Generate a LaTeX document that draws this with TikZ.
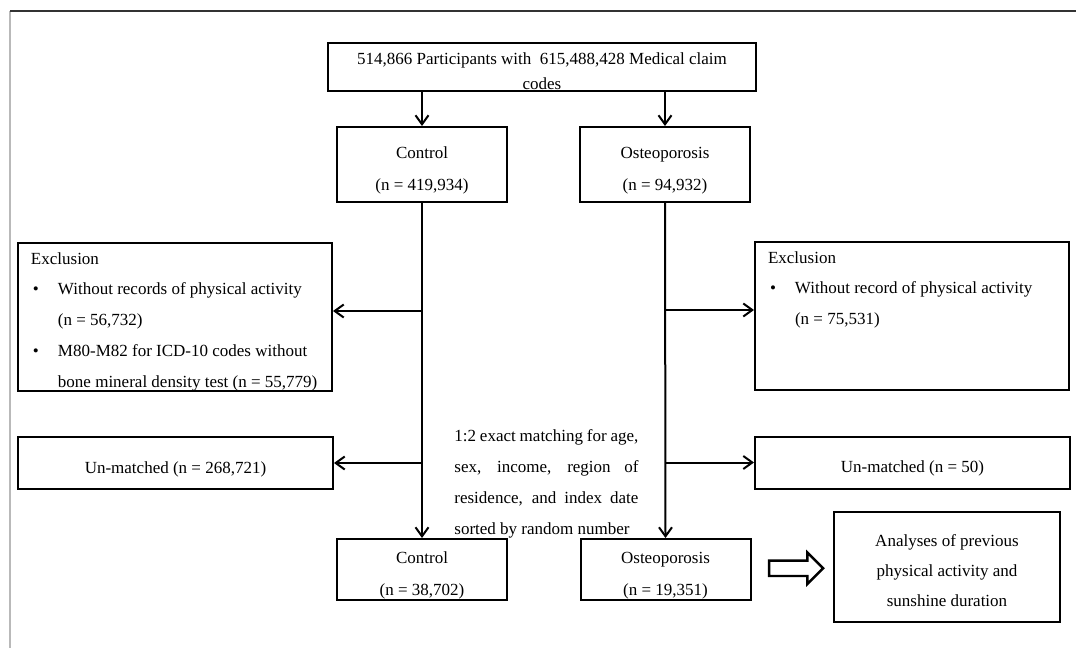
\documentclass[tikz,border=0pt]{standalone}
\usepackage{fontspec}
\setmainfont{Liberation Serif}
\usepackage{tikz}
\usetikzlibrary{calc,positioning,shapes.arrows,arrows.meta}
\newcommand{\exclhead}{\hspace*{3pt}}
\newcommand{\exclitem}{\hspace*{4pt}\makebox[12.5pt][l]{\textbullet}}
\newcommand{\exclindent}{\hspace*{16.5pt}}
\tikzset{
  basebox/.style={
    draw,
    rectangle,
    line width=1pt,
    inner sep=0pt,
    align=center,
    font=\fontsize{8.5}{16}\selectfont,
  },
  topbox/.style={basebox, minimum width=214pt, minimum height=24pt,
    text height=22.5pt, font=\fontsize{8.5}{12.5}\selectfont},
  groupbox/.style={basebox, minimum width=85pt, minimum height=37.5pt, text height=28pt},
  matchedbox/.style={basebox, minimum width=85pt, minimum height=30.5pt, text height=28pt},
  unbox/.style={basebox, minimum width=157.5pt, minimum height=26pt, text height=12pt},
  resultbox/.style={basebox, minimum width=113pt, minimum height=55pt,
    text height=40pt, font=\fontsize{8.5}{15}\selectfont},
  exclbox/.style={
    draw,
    rectangle,
    line width=1pt,
    text width=150pt,
    align=flush left,
    inner xsep=3.5pt,
    inner ysep=4.5pt,
    text height=6pt,
    text depth=59pt,
    font=\fontsize{8.5}{15.4}\selectfont,
  },
  matchnote/.style={text width=92pt, align=justify, inner sep=0pt,
    font=\fontsize{8.5}{15.5}\selectfont},
  flow/.style={line width=1pt, -{Straight Barb[length=4.5pt,width=6.5pt]}},
  bigarrow/.style={single arrow, draw, line width=1.2pt, minimum height=27pt,
    text height=6.5pt, text depth=0pt, single arrow head extend=4pt, inner sep=0pt},
}

\begin{document}
\begin{tikzpicture}[x=0.5pt,y=-0.5pt]
  \useasboundingbox (0,0) rectangle (1076,648);
  \draw[gray!55, line width=1pt] (10,11) -- (10,648);
  \draw[black!80, line width=0.6pt] (10,11) -- (1076,11);

  \node[topbox] (all) at (542,67) {514,866 Participants with\ \ 615,488,428 Medical claim\\codes};
  \node[groupbox] (ctl) at (422,164.5) {Control\\(n = 419,934)};
  \node[groupbox] (ost) at (665,164.5) {Osteoporosis\\(n = 94,932)};
  \node[exclbox] (exclL) at (175,317) {\exclhead Exclusion\\
    \exclitem Without records of physical activity\\
    \exclindent (n = 56,732)\\
    \exclitem M80-M82 for ICD-10 codes without\\
    \exclindent bone mineral density test (n = 55,779)};
  \node[exclbox] (exclR) at (912,316) {\exclhead Exclusion\\
    \exclitem Without record of physical activity\\
    \exclindent (n = 75,531)};
  \node[unbox] (unL) at (175.5,463) {Un-matched\ (n = 268,721)};
  \node[unbox] (unR) at (912.5,462.5) {Un-matched\ (n = 50)};
  \node[matchnote, anchor=base west] (match) at (454,441) {1:2 exact matching for age,\linebreak
    sex, income, region of\linebreak residence, and index date\linebreak sorted by random number};
  \node[matchedbox] (ctl2) at (422,569.5) {Control\\(n = 38,702)};
  \node[matchedbox] (ost2) at (665.5,569.5) {Osteoporosis\\(n = 19,351)};
  \node[resultbox] (ana) at (947,567) {Analyses of previous\\physical activity and\\sunshine duration};
  \node[bigarrow] (go) at ($(ost2.east)!0.5!(ana.west)$) {};

  \coordinate (eL) at ([yshift=3pt]exclL.east);
  \coordinate (eR) at ([yshift=3pt]exclR.west);
  \draw[flow] (ctl.north |- all.south) -- (ctl.north);
  \draw[flow] (ost.north |- all.south) -- (ost.north);
  \draw[flow] (ctl.south) -- (ctl2.north);
  \draw[flow] (ost.south) -- (ost2.north);
  \draw[flow] (eL -| ctl.south) -- (eL);
  \draw[flow] (eR -| ost.south) -- (eR);
  \draw[flow] (unL.east -| ctl.south) -- (unL.east);
  \draw[flow] (unR.west -| ost.south) -- (unR.west);
\end{tikzpicture}
\end{document}
